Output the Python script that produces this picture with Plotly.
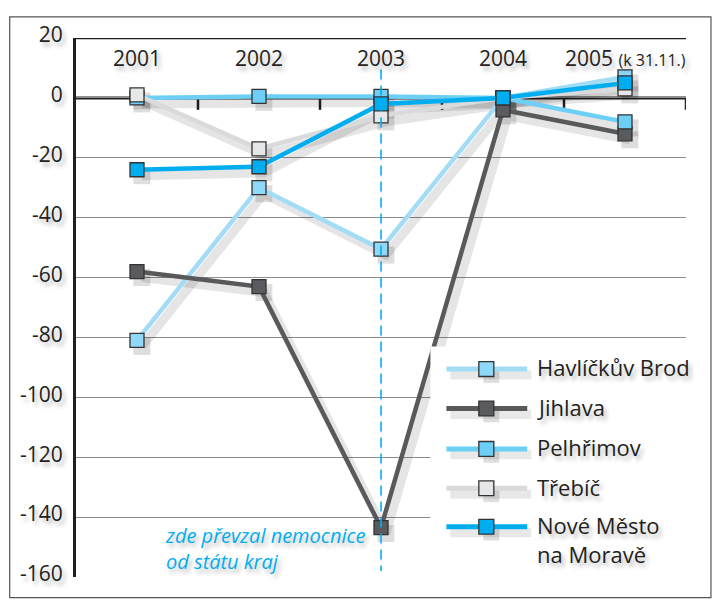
import plotly.graph_objects as go

# ---- data ----
years = ["2001", "2002", "2003", "2004", "2005"]
year_labels = ["2001", "2002", "2003", "2004",
               "2005 <span style='font-size:16px'>(k 31.11.)</span>"]
series_names = ["Havlíčkův Brod", "Jihlava", "Pelhřimov", "Třebíč", "Nové Město<br>na Moravě"]
havlickuv_brod = [-81, -30, -50.5, 0, 7]
jihlava = [-58, -63, -143.5, -4, -12]
pelhrimov = [0, 0.5, 0.5, 0, -8]
trebic = [1, -17, -6, 0, 3]
nove_mesto = [-24, -23, -2, 0, 5]
y_ticks = [20, 0, -20, -40, -60, -80, -100, -120, -140, -160]
y_tick_labels = ["20", "0", "-20", "-40", "-60", "-80", "-100", "-120", "-140", "-160"]
note_text = "<i>zde převzal nemocnice<br>od státu kraj</i>"

series = [havlickuv_brod, jihlava, pelhrimov, trebic, nove_mesto]
line_colors = ["#a3dcf4", "#58595b", "#6dcff6", "#d9dadc", "#00aeef"]
fill_colors = ["#8fd8f8", "#5a5b5e", "#6dcff6", "#e6e7e8", "#00aeef"]
edge = "#333333"
text_col = "#231f20"
FONT = "Open Sans"
TSH = "3px 4px 4px rgba(0,0,0,0.28)"

# page body has an 8px margin; figure coords = screen coords - 8
W, H = 710, 592
ML, MR, MT, MB = 67, 32, 22, 23
PW, PH = W - ML - MR, H - MT - MB
Y0, Y1 = -160, 20
SX, SY = 0.04, 2.0  # shadow offset (categories, value units)


def px(x):
    return (x - ML) / PW


def py(y):
    return (H - MB - y) / PH


fig = go.Figure()
# drop shadows (base axes, shifted range)
for vals in series:
    fig.add_trace(go.Scatter(
        x=years, y=vals, mode="lines+markers", xaxis="x", yaxis="y",
        line=dict(color="rgba(0,0,0,0.10)", width=9),
        marker=dict(symbol="square", size=17, color="rgba(0,0,0,0.13)", line=dict(width=0)),
        showlegend=False, hoverinfo="skip", cliponaxis=False))
# main series
for name, vals, lc, fc in zip(series_names, series, line_colors, fill_colors):
    fig.add_trace(go.Scatter(
        x=years, y=vals, mode="lines+markers", name=name.replace("<br>", " "),
        xaxis="x2", yaxis="y2",
        line=dict(color=lc, width=4.5),
        marker=dict(symbol="square", size=14, color=fc, line=dict(color=edge, width=1.3)),
        showlegend=False, cliponaxis=False))

shapes = []
shapes.append(dict(type="line", xref="x2", yref="y2", x0=-0.5, x1=4.5, y0=20, y1=20,
                   line=dict(color=text_col, width=2.5), layer="below"))
shapes.append(dict(type="line", xref="x2", yref="y2", x0=-0.5, x1=4.5, y0=0, y1=0,
                   line=dict(color=text_col, width=3), layer="below"))
for i in range(len(years)):
    shapes.append(dict(type="line", xref="x2", yref="y2", x0=i + 0.5, x1=i + 0.5, y0=0, y1=-4,
                       line=dict(color=text_col, width=2.5), layer="below"))
shapes.append(dict(type="line", xref="x2", yref="y2", x0=2, x1=2, y0=9.5, y1=-158,
                   line=dict(color="#00aeef", width=1.6, dash="10px,6px")))
# outer frame
shapes.append(dict(type="rect", xref="paper", yref="paper",
                   x0=px(0.6), x1=px(703), y0=py(590), y1=py(0.6),
                   line=dict(color="#555555", width=1.2), layer="above"))

annotations = []
for i, lab in enumerate(year_labels):
    annotations.append(dict(x=i, y=20, xref="x2", yref="y2", text=lab, showarrow=False,
                            yanchor="middle", yshift=-20,
                            font=dict(size=21, color=text_col, family=FONT, shadow=TSH)))
annotations.append(dict(x=px(154), y=py(540), xref="paper", yref="paper", text=note_text,
                        showarrow=False, xanchor="left", yanchor="middle", align="left",
                        font=dict(size=20, color="#00aeef", family=FONT, shadow=TSH)))

# legend box (manual)
shapes.append(dict(type="rect", xref="paper", yref="paper",
                   x0=px(422), x1=px(702), y0=py(563), y1=py(335),
                   fillcolor="white", line=dict(width=0), layer="above"))
row_y = [358, 398, 439, 479, 518]
LX0, LX1, MX = 438, 519, 478
for name, lc, fc, ry in zip(series_names, line_colors, fill_colors, row_y):
    # shadow
    shapes.append(dict(type="line", xref="paper", yref="paper",
                       x0=px(LX0 + 4), x1=px(LX1 + 4), y0=py(ry + 6), y1=py(ry + 6),
                       line=dict(color="rgba(0,0,0,0.09)", width=9), layer="above"))
    shapes.append(dict(type="rect", xref="paper", yref="paper",
                       x0=px(MX - 8 + 5), x1=px(MX + 8 + 5), y0=py(ry + 8 + 6), y1=py(ry - 8 + 6),
                       fillcolor="rgba(0,0,0,0.13)", line=dict(width=0), layer="above"))
    shapes.append(dict(type="line", xref="paper", yref="paper",
                       x0=px(LX0), x1=px(LX1), y0=py(ry), y1=py(ry),
                       line=dict(color=lc, width=5), layer="above"))
    shapes.append(dict(type="rect", xref="paper", yref="paper",
                       x0=px(MX - 7.5), x1=px(MX + 7.5), y0=py(ry + 7.5), y1=py(ry - 7.5),
                       fillcolor=fc, line=dict(color=edge, width=1.3), layer="above"))
    annotations.append(dict(x=px(527), y=py(ry - 19), xref="paper", yref="paper",
                            text=name, showarrow=False, xanchor="left", yanchor="top",
                            align="left",
                            font=dict(size=22, color=text_col, family=FONT, shadow=TSH)))

fig.update_layout(
    width=W, height=H,
    margin=dict(l=ML, r=MR, t=MT, b=MB),
    paper_bgcolor="white", plot_bgcolor="white",
    shapes=shapes, annotations=annotations,
    xaxis=dict(type="category", categoryorder="array", categoryarray=years,
               range=[-0.5 - SX, 4.5 - SX], visible=False, fixedrange=True),
    yaxis=dict(range=[Y0 + SY, Y1 + SY], visible=False, fixedrange=True),
    xaxis2=dict(type="category", categoryorder="array", categoryarray=years,
                overlaying="x", range=[-0.5, 4.5], showticklabels=False, showgrid=False,
                zeroline=False, ticks="", fixedrange=True),
    yaxis2=dict(overlaying="y", range=[Y0, Y1], tickvals=y_ticks, ticktext=y_tick_labels,
                showgrid=True, gridcolor="#8c8c8c", gridwidth=1.2, side="left",
                zeroline=False, showline=True, linecolor=text_col, linewidth=3,
                ticks="", ticklabelstandoff=6, ticklabelshift=-3,
                tickfont=dict(size=21, color=text_col, family=FONT, shadow=TSH)),
    font=dict(family=FONT, color=text_col),
)

fig.write_html("out.html")
